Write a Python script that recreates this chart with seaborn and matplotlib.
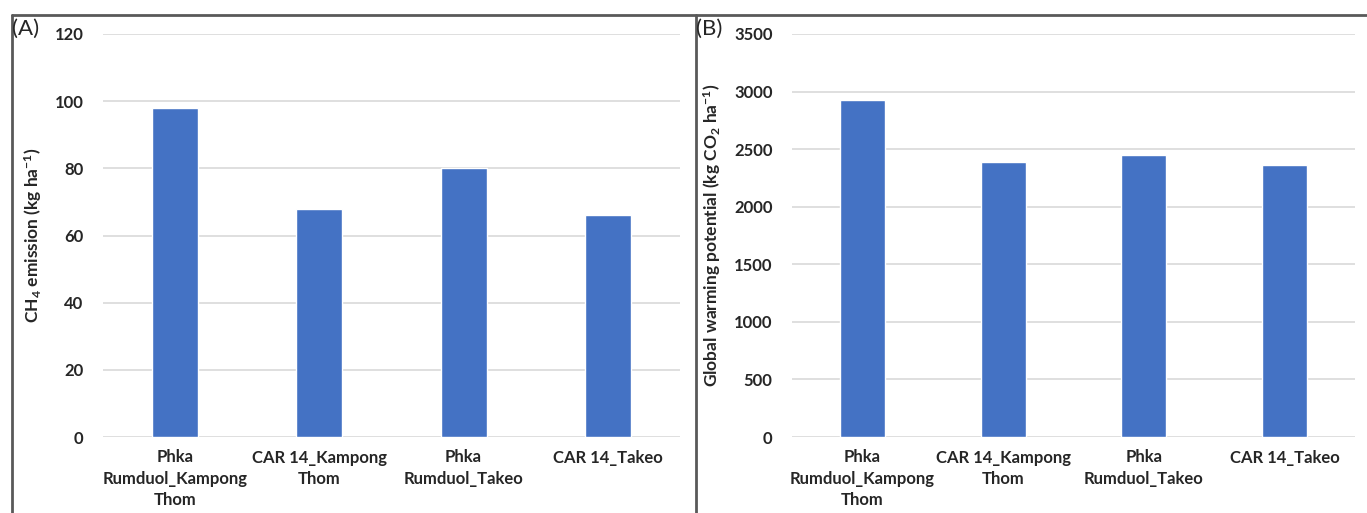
import matplotlib
matplotlib.use("Agg")
import matplotlib.pyplot as plt
import seaborn as sns
import pandas as pd
from matplotlib.lines import Line2D

categories = ["Phka\nRumduol_Kampong\nThom", "CAR 14_Kampong\nThom",
              "Phka\nRumduol_Takeo", "CAR 14_Takeo"]
ch4_emission = [98, 68, 80, 66]
gwp = [2930, 2390, 2450, 2360]
ch4_ticks = [0, 20, 40, 60, 80, 100, 120]
gwp_ticks = [0, 500, 1000, 1500, 2000, 2500, 3000, 3500]

sns.set_theme(style="white")
plt.rcParams['font.family'] = ['Lato', 'DejaVu Sans']
plt.rcParams['mathtext.fontset'] = 'custom'
plt.rcParams['mathtext.rm'] = 'Lato:bold'
plt.rcParams['mathtext.it'] = 'Lato:bold'
plt.rcParams['mathtext.bf'] = 'Lato:bold'

BAR = "#4472C4"
GRID = "#D9D9D9"
TXT = "#262626"

fig = plt.figure(figsize=(13.67, 5.13), dpi=100)

axA = fig.add_axes([103/1367, 76/513, 577/1367, 403/513])
axB = fig.add_axes([792/1367, 76/513, 563/1367, 403/513])

dfA = pd.DataFrame({"cat": categories, "val": ch4_emission})
dfB = pd.DataFrame({"cat": categories, "val": gwp})

sns.barplot(data=dfA, x="cat", y="val", ax=axA, color=BAR, width=0.32, saturation=1)
sns.barplot(data=dfB, x="cat", y="val", ax=axB, color=BAR, width=0.32, saturation=1)

for ax, ticks, lab in [(axA, ch4_ticks, r"CH$_4$ emission (kg ha$^{\rm {-}1}$)"),
                       (axB, gwp_ticks, r"Global warming potential (kg CO$_2$ ha$^{\rm {-}1}$)")]:
    ax.set_ylim(ticks[0], ticks[-1])
    ax.set_yticks(ticks)
    ax.set_xlim(-0.5, 3.5)
    ax.yaxis.grid(True, color=GRID, linewidth=1.2)
    ax.set_axisbelow(True)
    for s in ax.spines.values():
        s.set_visible(False)
    ax.tick_params(axis="both", length=0, labelsize=12, colors=TXT)
    ax.tick_params(axis="y", pad=14)
    ax.tick_params(axis="x", pad=9)
    for t in ax.get_yticklabels() + ax.get_xticklabels():
        t.set_fontweight("bold")
    for t in ax.get_xticklabels():
        t.set_multialignment("center")
        t.set_linespacing(1.4)
    ax.set_xlabel("")
    ax.set_ylabel(lab, fontsize=12.5, fontweight="bold", color=TXT, labelpad=8)

fig.text(12/1367, 1 - 29/513, "(A)", fontsize=16, color=TXT, va="center", ha="left")
fig.text(696/1367, 1 - 29/513, "(B)", fontsize=16, color=TXT, va="center", ha="left")

lc = "#595959"
fig.add_artist(Line2D([12/1367, 1], [1 - 15/513, 1 - 15/513], color=lc, linewidth=2, transform=fig.transFigure))
fig.add_artist(Line2D([12/1367, 12/1367], [0, 1 - 15/513], color=lc, linewidth=2, transform=fig.transFigure))
fig.add_artist(Line2D([696/1367, 696/1367], [0, 1 - 15/513], color=lc, linewidth=2, transform=fig.transFigure))

fig.savefig("out.png", dpi=100, facecolor="white")
